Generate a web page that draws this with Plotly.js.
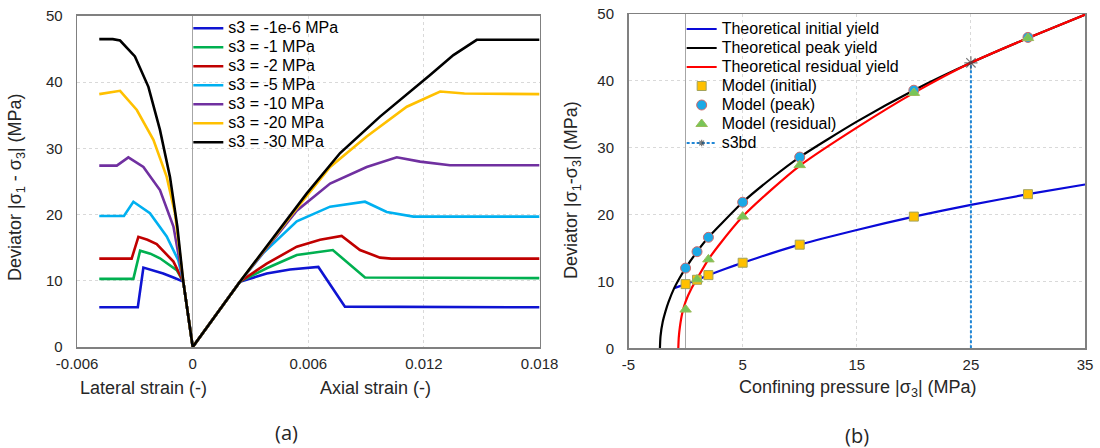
<!DOCTYPE html>
<html>
<head>
<meta charset="utf-8">
<script src="https://cdn.plot.ly/plotly-3.0.1.min.js"></script>
<style>
  html, body { margin: 0; padding: 0; background: #fff; }
  #chart { width: 1100px; height: 448px; }
</style>
</head>
<body>
<div id="chart"></div>
<script>
// ---------- Chart (a): stress-strain curves ----------
const seriesNames = ['s3 = -1e-6 MPa', 's3 = -1 MPa', 's3 = -2 MPa', 's3 = -5 MPa', 's3 = -10 MPa', 's3 = -20 MPa', 's3 = -30 MPa'];
const seriesColors = ['#0F14D2', '#00B050', '#C00000', '#00B0F0', '#7030A0', '#FFC000', '#000000'];

// lateral branch (negative strain), ordered left to right
const latX_s1 = [-0.00485, -0.00285, -0.00256, -0.00204, -0.00153, -0.00100, -0.00049];
const latY_s1 = [6.0, 6.0, 12.0, 11.6, 11.1, 10.5, 9.87];
const latX_s2 = [-0.00485, -0.00308, -0.00273, -0.00220, -0.00170, -0.00083, -0.00049];
const latY_s2 = [10.3, 10.3, 14.55, 14.1, 13.4, 11.6, 9.87];
const latX_s3 = [-0.00485, -0.00317, -0.00282, -0.00235, -0.00187, -0.00100, -0.00049];
const latY_s3 = [13.35, 13.35, 16.65, 16.2, 15.55, 12.9, 9.87];
const latX_s4 = [-0.00485, -0.00357, -0.00308, -0.00222, -0.00135, -0.00075, -0.00049];
const latY_s4 = [19.8, 19.8, 21.95, 20.2, 16.7, 13.1, 9.87];
const latX_s5 = [-0.00485, -0.00394, -0.00334, -0.00256, -0.00170, -0.00100, -0.00049];
const latY_s5 = [27.4, 27.4, 28.65, 27.2, 23.7, 18.2, 9.87];
const latX_s6 = [-0.00485, -0.00377, -0.00290, -0.00204, -0.00135, -0.00092, -0.00049];
const latY_s6 = [38.2, 38.7, 35.8, 31.3, 25.7, 20.2, 9.87];
const latX_s7 = [-0.00485, -0.00415, -0.00377, -0.00300, -0.00230, -0.00170, -0.00118, -0.00080, -0.00049];
const latY_s7 = [46.5, 46.5, 46.3, 43.9, 39.3, 32.8, 25.7, 18.2, 9.87];

// axial branch (positive strain)
const axX_s1 = [0, 0.00245, 0.00384, 0.00505, 0.00652, 0.0079, 0.018];
const axY_s1 = [0, 9.87, 11.1, 11.7, 12.1, 6.1, 6.0];
const axX_s2 = [0, 0.00245, 0.00384, 0.0054, 0.00727, 0.00894, 0.018];
const axY_s2 = [0, 9.87, 11.9, 13.9, 14.65, 10.5, 10.4];
const axX_s3 = [0, 0.00245, 0.00384, 0.0054, 0.00661, 0.00773, 0.00868, 0.00972, 0.0103, 0.018];
const axY_s3 = [0, 9.87, 12.6, 15.15, 16.2, 16.77, 14.65, 13.5, 13.35, 13.35];
const axX_s4 = [0, 0.00245, 0.00366, 0.0054, 0.00713, 0.00894, 0.01007, 0.01145, 0.018];
const axY_s4 = [0, 9.87, 14.2, 19.0, 21.2, 21.95, 20.4, 19.7, 19.7];
const axX_s5 = [0, 0.00245, 0.00384, 0.0054, 0.00713, 0.00903, 0.01059, 0.0118, 0.01335, 0.018];
const axY_s5 = [0, 9.87, 15.0, 20.6, 24.7, 27.2, 28.65, 28.0, 27.45, 27.45];
const axX_s6 = [0, 0.00245, 0.00522, 0.00713, 0.00903, 0.01111, 0.01284, 0.0141, 0.018];
const axY_s6 = [0, 9.87, 20.3, 27.2, 31.8, 36.3, 38.6, 38.3, 38.2];
const axX_s7 = [0, 0.00245, 0.00592, 0.00765, 0.00972, 0.01232, 0.01353, 0.01474, 0.018];
const axY_s7 = [0, 9.87, 23.2, 29.3, 34.8, 41.1, 44.1, 46.4, 46.4];

const leftTickVals = [-0.006, 0, 0.006, 0.012, 0.018];
const leftTickText = ['-0.006', '0', '0.006', '0.012', '0.018'];
const devTickVals = [0, 10, 20, 30, 40, 50];
const devTickText = ['0', '10', '20', '30', '40', '50'];

// ---------- Chart (b): yield envelopes ----------
const initialTheoX = [-1.0, -0.5, 0, 1, 2, 3.5, 5, 7.5, 10, 15, 20, 25, 30, 35];
const initialTheoY = [9.0, 9.3, 9.6, 10.25, 10.95, 11.9, 12.8, 14.2, 15.5, 17.7, 19.7, 21.45, 23.05, 24.5];
const peakTheoX = [-2.25, -2.2, -2.0, -1.75, -1.5, -1.0, -0.5, 0, 1, 2, 3, 5, 7.5, 10, 15, 20, 25, 30, 35];
const peakTheoY = [0, 1.8, 4.0, 5.6, 6.9, 9.0, 10.6, 12.0, 14.45, 16.6, 18.4, 21.85, 25.4, 28.6, 33.9, 38.6, 42.7, 46.4, 49.9];
const residualTheoX = [-0.64, -0.6, -0.5, -0.3, 0, 0.5, 1, 2, 3, 5, 7.5, 10, 15, 20, 25, 30, 35];
const residualTheoY = [0, 1.6, 3.2, 5.2, 7.0, 8.9, 10.4, 13.3, 15.6, 19.7, 23.7, 27.3, 33.0, 38.2, 42.7, 46.4, 49.9];

const modelS3 = [0, 1, 2, 5, 10, 20, 30];
const modelInitialY = [9.6, 10.25, 10.95, 12.8, 15.5, 19.7, 23.05];
const modelPeakY = [12.0, 14.45, 16.6, 21.85, 28.6, 38.6, 46.5];
const modelResidualY = [5.8, 10.3, 13.3, 19.7, 27.4, 38.2, 46.4];

const s3bdX = [25, 25];
const s3bdY = [0, 42.7];

const rightTickVals = [-5, 5, 15, 25, 35];
const rightTickText = ['-5', '5', '15', '25', '35'];

const rightNames = ['Theoretical initial yield', 'Theoretical peak yield', 'Theoretical residual yield',
                    'Model (initial)', 'Model (peak)', 'Model (residual)', 's3bd'];

// ---------- build traces ----------
const latXs = [latX_s1, latX_s2, latX_s3, latX_s4, latX_s5, latX_s6, latX_s7];
const latYs = [latY_s1, latY_s2, latY_s3, latY_s4, latY_s5, latY_s6, latY_s7];
const axXs = [axX_s1, axX_s2, axX_s3, axX_s4, axX_s5, axX_s6, axX_s7];
const axYs = [axY_s1, axY_s2, axY_s3, axY_s4, axY_s5, axY_s6, axY_s7];

const FONT = 'Liberation Sans, Arial, sans-serif';
const legName = s => '<span style="font-size:16px">' + s + '</span>';

const traces = [];
for (let i = 0; i < seriesNames.length; i++) {
  traces.push({
    type: 'scatter', mode: 'lines', name: legName(seriesNames[i]),
    x: latXs[i].concat(axXs[i]), y: latYs[i].concat(axYs[i]),
    xaxis: 'x', yaxis: 'y', legend: 'legend',
    line: { color: seriesColors[i], width: 2.6 }
  });
}

traces.push({
  type: 'scatter', mode: 'lines', name: legName(rightNames[0]),
  x: initialTheoX, y: initialTheoY, xaxis: 'x2', yaxis: 'y2', legend: 'legend2',
  line: { color: '#0A0AD8', width: 2.2, shape: 'spline', smoothing: 0.6 }
});
traces.push({
  type: 'scatter', mode: 'lines', name: legName(rightNames[1]),
  x: peakTheoX, y: peakTheoY, xaxis: 'x2', yaxis: 'y2', legend: 'legend2',
  line: { color: '#000000', width: 2.2, shape: 'spline', smoothing: 0.6 }
});
traces.push({
  type: 'scatter', mode: 'lines', name: legName(rightNames[2]),
  x: residualTheoX, y: residualTheoY, xaxis: 'x2', yaxis: 'y2', legend: 'legend2',
  line: { color: '#FF0000', width: 2.2, shape: 'spline', smoothing: 0.6 }
});
traces.push({
  type: 'scatter', mode: 'markers', name: legName(rightNames[3]),
  x: modelS3, y: modelInitialY, xaxis: 'x2', yaxis: 'y2', legend: 'legend2',
  marker: { symbol: 'square', size: 9, color: '#FFC000', line: { color: '#A3A35A', width: 1 } }
});
traces.push({
  type: 'scatter', mode: 'markers', name: legName(rightNames[4]),
  x: modelS3, y: modelPeakY, xaxis: 'x2', yaxis: 'y2', legend: 'legend2',
  marker: { symbol: 'circle', size: 10, color: '#1CA9E6', line: { color: '#D06A6A', width: 1 } }
});
traces.push({
  type: 'scatter', mode: 'markers', name: legName(rightNames[5]),
  x: modelS3, y: modelResidualY, xaxis: 'x2', yaxis: 'y2', legend: 'legend2',
  marker: { symbol: 'triangle-up', size: 10, color: '#78C558', line: { color: '#9BBB59', width: 1 } }
});
traces.push({
  type: 'scatter', mode: 'lines+markers', name: legName(rightNames[6]),
  x: s3bdX, y: s3bdY, xaxis: 'x2', yaxis: 'y2', legend: 'legend2',
  line: { color: '#1F86D6', width: 2, dash: '3px,2px' },
  marker: { symbol: 'asterisk-open', size: [0, 11], color: '#404040', line: { color: '#404040', width: 1.2 } }
});

const gridStyle = { showgrid: true, gridcolor: '#D9D9D9', griddash: 'dot', gridwidth: 1 };
const frame = { showline: true, linecolor: '#808080', linewidth: 1.5, mirror: true, ticks: '' };
const tickFont = { family: FONT, size: 15, color: '#262626' };
const titleFont = { family: FONT, size: 18, color: '#262626' };
const capFont = { family: 'Open Sans, Noto Sans, sans-serif', size: 20, color: '#262626' };

function note(text, x, y, font, angle) {
  return { text: text, xref: 'paper', yref: 'paper', x: x, y: y,
           xanchor: 'center', yanchor: 'middle', showarrow: false,
           textangle: angle || 0, font: font };
}

const layout = {
  width: 1100, height: 448,
  margin: { l: 0, r: 0, t: 0, b: 0 },
  paper_bgcolor: '#ffffff', plot_bgcolor: '#ffffff',
  font: { family: FONT, color: '#262626' },
  showlegend: true,
  xaxis: Object.assign({
    domain: [0.0701, 0.4905], range: [-0.006, 0.018], anchor: 'y',
    tickmode: 'array', tickvals: leftTickVals, ticktext: leftTickText,
    zeroline: true, zerolinecolor: '#A6A6A6', zerolinewidth: 1.5,
    tickfont: tickFont, ticklabelstandoff: 2
  }, gridStyle, frame),
  yaxis: Object.assign({
    domain: [0.2254, 0.9643], range: [0, 50], anchor: 'x',
    tickmode: 'array', tickvals: devTickVals, ticktext: devTickText,
    zeroline: false, tickfont: tickFont, ticklabelstandoff: 10
  }, gridStyle, frame),
  xaxis2: Object.assign({
    domain: [0.5714, 0.9864], range: [-5, 35], anchor: 'y2',
    tickmode: 'array', tickvals: rightTickVals, ticktext: rightTickText,
    zeroline: true, zerolinecolor: '#A6A6A6', zerolinewidth: 1.5,
    tickfont: tickFont, ticklabelstandoff: 2
  }, gridStyle, frame),
  yaxis2: Object.assign({
    domain: [0.2225, 0.96875], range: [0, 50], anchor: 'x2',
    tickmode: 'array', tickvals: devTickVals, ticktext: devTickText,
    zeroline: false, tickfont: tickFont, ticklabelstandoff: 10
  }, gridStyle, frame),
  legend: {
    x: 0.1712, y: 0.9692, xanchor: 'left', yanchor: 'top',
    bgcolor: 'rgba(0,0,0,0)', borderwidth: 0,
    font: { family: FONT, size: 12, color: '#000000' }, itemwidth: 30
  },
  legend2: {
    x: 0.6197, y: 0.9676, xanchor: 'left', yanchor: 'top',
    bgcolor: 'rgba(0,0,0,0)', borderwidth: 0,
    font: { family: FONT, size: 12, color: '#000000' }, itemwidth: 30
  },
  annotations: [
    note('Deviator |σ<sub>1</sub> - σ<sub>3</sub>| (MPa)', 0.0155, 0.5826, titleFont, -90),
    note('Deviator |σ<sub>1</sub>-σ<sub>3</sub>| (MPa)', 0.5209, 0.5759, titleFont, -90),
    note('Lateral strain (-)', 0.130, 0.1339, titleFont),
    note('Axial strain (-)', 0.3418, 0.1339, titleFont),
    note('Confining pressure |σ<sub>3</sub>| (MPa)', 0.780, 0.1339, titleFont),
    note('(a)', 0.260, 0.0335, capFont),
    note('(b)', 0.779, 0.029, capFont)
  ]
};

Plotly.newPlot('chart', traces, layout, { staticPlot: true, displayModeBar: false });
</script>
</body>
</html>
